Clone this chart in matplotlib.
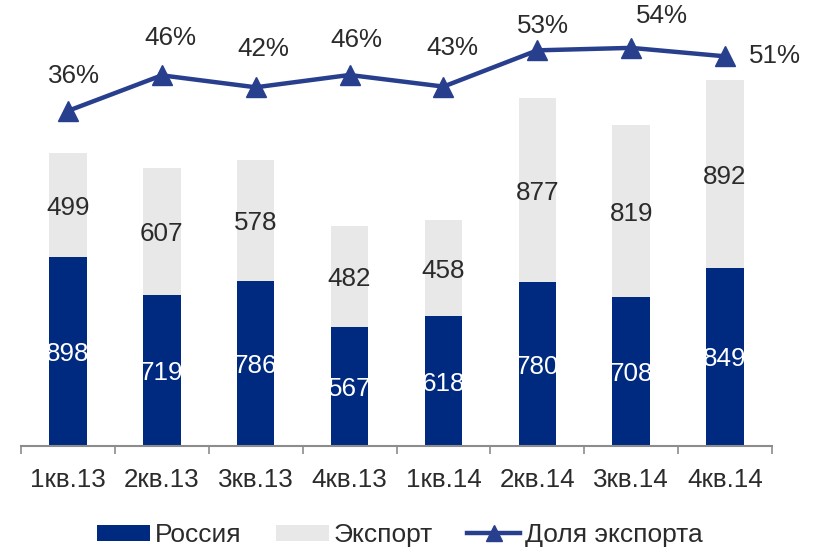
import matplotlib
matplotlib.use("Agg")
import matplotlib.pyplot as plt
import numpy as np
from matplotlib.patches import Patch
from matplotlib.lines import Line2D

categories = ["1кв.13", "2кв.13", "3кв.13", "4кв.13", "1кв.14", "2кв.14", "3кв.14", "4кв.14"]
russia = [898, 719, 786, 567, 618, 780, 708, 849]
export = [499, 607, 578, 482, 458, 877, 819, 892]
export_share = [35.7, 45.8, 42.4, 45.9, 42.6, 52.9, 53.6, 51.2]

plt.rcParams['font.family'] = ['Liberation Sans', 'DejaVu Sans']

navy = "#002A80"
grey_bar = "#E8E8E8"
line_col = "#283F8E"
txt = "#2B2B2B"
fs = 18.7

W, H = 818, 548
fig = plt.figure(figsize=(W/100, H/100), dpi=100)
ax = fig.add_axes([21/W, 102/H, 751/W, 446/H])
x = np.arange(len(categories))

ax.bar(x, russia, width=0.4, color=navy, zorder=2)
ax.bar(x, export, width=0.4, bottom=russia, color=grey_bar, zorder=2)
ax.set_xlim(-0.5, len(categories) - 0.5)
ax.set_ylim(0, 2124)
ax.set_yticks([])
for s in ["top", "left", "right"]:
    ax.spines[s].set_visible(False)
ax.spines["bottom"].set_color("#8C8C8C")
ax.spines["bottom"].set_linewidth(1.5)
ax.set_xticks(x)
ax.set_xticklabels(categories, fontsize=fs, color=txt)
ax.tick_params(axis="x", which="major", length=0, pad=16)
ax.set_xticks(np.arange(-0.5, len(categories)), minor=True)
ax.tick_params(axis="x", which="minor", length=5.5, width=1.2, color="#8C8C8C")

for i in range(len(categories)):
    ax.text(x[i], russia[i] / 2, f"{russia[i]}", ha="center", va="center_baseline",
            color="white", fontsize=fs, zorder=3)
    ax.text(x[i], russia[i] + export[i] / 2, f"{export[i]}", ha="center",
            va="center_baseline", color=txt, fontsize=fs, zorder=3)

ax2 = ax.twinx()
ax2.set_ylim(-59.5, 67.2)
ax2.axis("off")
ax2.plot(x, export_share, color=line_col, lw=3.2, marker="^", markersize=14,
         zorder=4)

offsets = [(6, 35), (9, 37), (8, 38), (7, 35), (9, 39), (6, 24), (31, 32), (50, 0)]
for i, v in enumerate(export_share):
    dx, dy = offsets[i]
    ax2.annotate(f"{round(v)}%", (x[i], v), xytext=(dx, dy), textcoords="offset pixels",
                 ha="center", va="center", fontsize=fs, color=txt)

handles = [Patch(facecolor=navy), Patch(facecolor=grey_bar),
           Line2D([0], [0], color=line_col, lw=3.2, marker="^", markersize=12)]
labels = ["Россия", "Экспорт", "Доля экспорта"]
fig.legend(handles, labels, loc="center", bbox_to_anchor=(400/W, 1 - 535/H), ncol=3,
           frameon=False, fontsize=19, handlelength=2.0, handleheight=0.55,
           handletextpad=0.2, columnspacing=1.3, labelcolor=txt)

fig.savefig("out.png", dpi=100)
